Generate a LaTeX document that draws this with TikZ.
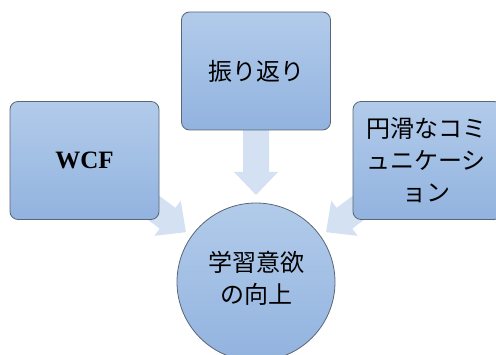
\documentclass[tikz,border=0pt]{standalone}
\usepackage{fontspec}
\setmainfont{Liberation Serif}
\newfontfamily\jp{Noto Sans CJK JP}
\definecolor{boxtop}{HTML}{B2CBEA}
\definecolor{boxbot}{HTML}{92B3DF}
\definecolor{boxline}{HTML}{5A6676}
\definecolor{arrowfill}{HTML}{D4E1F2}
\newcommand\blockarrow[3]{%
  \fill[arrowfill, shift={#1}, rotate=#2] (0,-13) -- (#3-23,-13) -- (#3-23,-22) -- (#3,0) -- (#3-23,22) -- (#3-23,13) -- (0,13) -- cycle;}
\begin{document}
\begin{tikzpicture}[x=1pt,y=1pt,
  boxstyle/.style={draw=boxline, line width=0.8pt, rounded corners=8pt,
    top color=boxtop, bottom color=boxbot, minimum width=149pt,
    minimum height=118pt, inner sep=0pt, align=center},
  circstyle/.style={circle, draw=boxline, line width=0.8pt,
    top color=boxtop, bottom color=boxbot, minimum size=158pt, inner sep=0pt},
  jptext/.style={font=\jp\fontsize{24}{32}\selectfont, align=center},
]
\useasboundingbox (0,0) rectangle (496,354);
% arrows (behind)
\coordinate (ltail) at (130,164);
\coordinate (rtail) at (382,164);
\coordinate (ttail) at (256,224);
\blockarrow{(ttail)}{-90}{65}
\blockarrow{(ltail)}{-37}{70}
\blockarrow{(rtail)}{-143}{70}
% boxes
\node[boxstyle] (top) at (256,283) {};
\node[jptext] (toptext) at (top.center) {振り返り};
\node[boxstyle] (left) at (84.5,193.5) {};
\node[font=\bfseries\fontsize{25}{30}\selectfont] (lefttext) at (left.center) {WCF};
\node[boxstyle] (right) at (427.5,193.5) {};
\node[jptext] (righttext) at (426,193.5) {円滑なコミ\\ュニケーシ\\ョン};
\node[circstyle] (goal) at (256,72) {};
\node[jptext] (goaltext) at (256,76) {学習意欲\\の向上};
\end{tikzpicture}
\end{document}
